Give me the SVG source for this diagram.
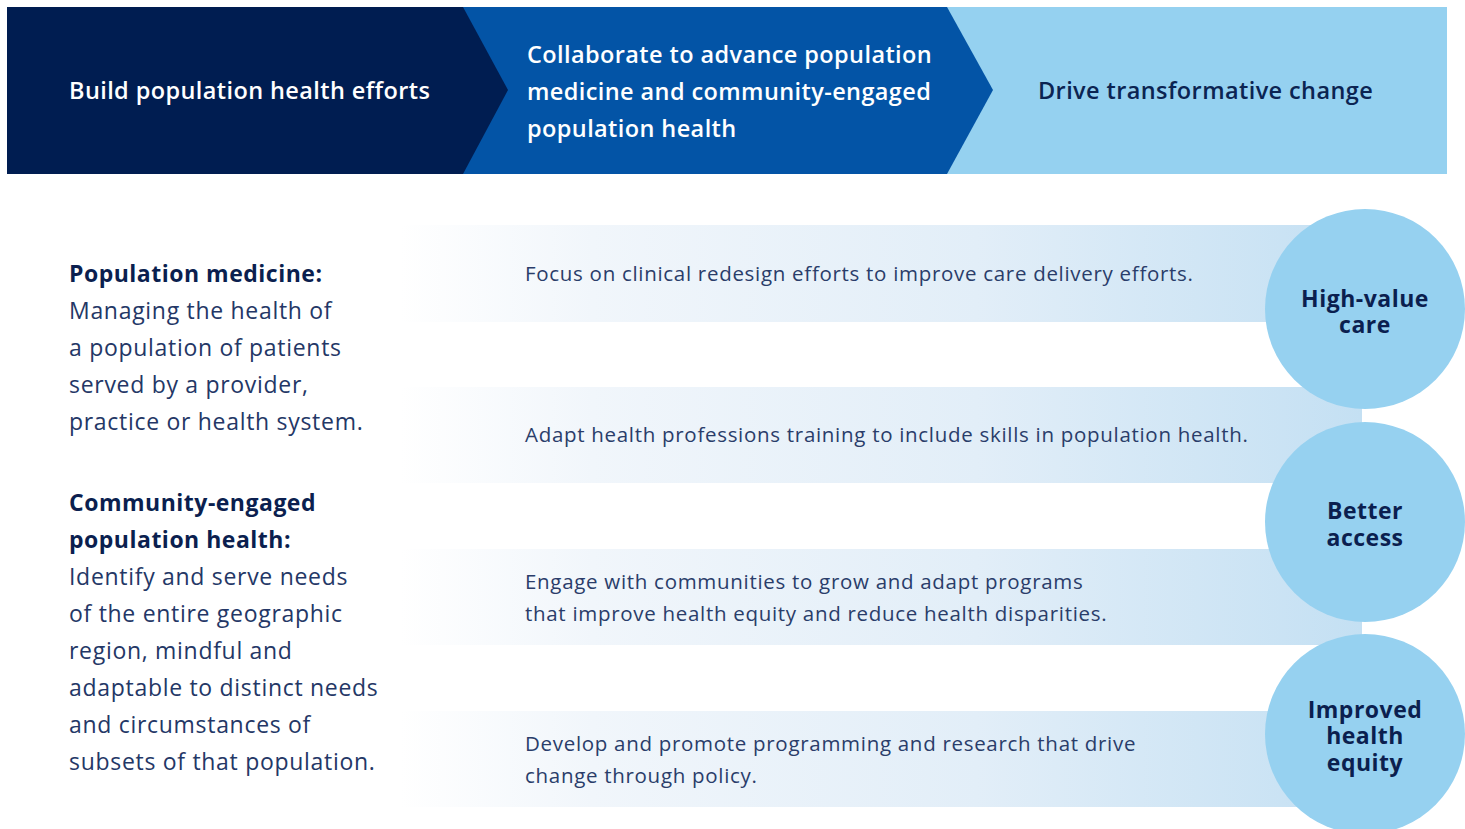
<svg xmlns="http://www.w3.org/2000/svg" width="1465" height="829" viewBox="0 0 1465 829">
<defs>
<linearGradient id="band" gradientUnits="userSpaceOnUse" x1="400" y1="0" x2="1362" y2="0">
<stop offset="0" stop-color="#ffffff"/>
<stop offset="0.2" stop-color="#f1f6fb"/>
<stop offset="0.6" stop-color="#e2eef8"/>
<stop offset="1" stop-color="#c4e0f3"/>
</linearGradient>
<style>
.hdr{font-family:"Open Sans","Liberation Sans",sans-serif;font-size:23.5px;font-weight:600;letter-spacing:0.4px}
.band{fill:url(#band)}
.bt{font-family:"Open Sans","Liberation Sans",sans-serif;font-size:20.5px;fill:#2a3d6a;letter-spacing:0.7px}
.lt{font-family:"Open Sans","Liberation Sans",sans-serif;font-size:23px;fill:#243766;letter-spacing:0.7px}
.lb{font-weight:700;fill:#0b1f4f;letter-spacing:0.5px}
.circ{fill:#96d1f0}
.ct{font-family:"Open Sans","Liberation Sans",sans-serif;font-size:23px;font-weight:700;fill:#0b1f4f;text-anchor:middle;letter-spacing:0.5px}
</style>
</defs>
<rect width="1465" height="829" fill="#ffffff"/>
<g id="stage3">
<polygon points="940,7 1447,7 1447,174 940,174" fill="#95d1f0"/>
<text class="hdr" x="1038" y="99" fill="#0b2452">Drive transformative change</text>
</g>
<g id="stage2">
<polygon points="456,7 947,7 993,90 947,174 456,174" fill="#0354a6"/>
<text class="hdr" fill="#ffffff"><tspan x="527" y="63">Collaborate to advance population</tspan><tspan x="527" y="100">medicine and community-engaged</tspan><tspan x="527" y="137">population health</tspan></text>
</g>
<g id="stage1">
<polygon points="7,7 463,7 508,90 463,174 7,174" fill="#001d51"/>
<text class="hdr" x="69" y="99" fill="#ffffff">Build population health efforts</text>
</g>
<g id="definitions">
<text class="lt"><tspan class="lb" x="69" y="282">Population medicine:</tspan><tspan x="69" y="319">Managing the health of</tspan><tspan x="69" y="356">a population of patients</tspan><tspan x="69" y="393">served by a provider,</tspan><tspan x="69" y="430">practice or health system.</tspan></text>
<text class="lt"><tspan class="lb" x="69" y="511">Community-engaged</tspan><tspan class="lb" x="69" y="548">population health:</tspan><tspan x="69" y="585">Identify and serve needs</tspan><tspan x="69" y="622">of the entire geographic</tspan><tspan x="69" y="659">region, mindful and</tspan><tspan x="69" y="696">adaptable to distinct needs</tspan><tspan x="69" y="733">and circumstances of</tspan><tspan x="69" y="770">subsets of that population.</tspan></text>
</g>
<g id="band1"><rect class="band" x="400" y="225" width="962" height="97"/><text class="bt" x="525" y="281">Focus on clinical redesign efforts to improve care delivery efforts.</text></g>
<g id="band2"><rect class="band" x="400" y="387" width="962" height="96"/><text class="bt" x="525" y="442">Adapt health professions training to include skills in population health.</text></g>
<g id="band3"><rect class="band" x="400" y="549" width="962" height="96"/><text class="bt"><tspan x="525" y="589">Engage with communities to grow and adapt programs</tspan><tspan x="525" y="621">that improve health equity and reduce health disparities.</tspan></text></g>
<g id="band4"><rect class="band" x="400" y="711" width="962" height="96"/><text class="bt"><tspan x="525" y="751">Develop and promote programming and research that drive</tspan><tspan x="525" y="783">change through policy.</tspan></text></g>
<g id="connectors"></g>
<g id="outcome1"><circle class="circ" cx="1365" cy="309" r="100"/><text class="ct"><tspan x="1365" y="307">High-value</tspan><tspan x="1365" y="333">care</tspan></text></g>
<g id="outcome2"><circle class="circ" cx="1365" cy="522" r="100"/><text class="ct"><tspan x="1365" y="519">Better</tspan><tspan x="1365" y="546">access</tspan></text></g>
<g id="outcome3"><circle class="circ" cx="1365" cy="734" r="100"/><text class="ct"><tspan x="1365" y="718">Improved</tspan><tspan x="1365" y="744">health</tspan><tspan x="1365" y="771">equity</tspan></text></g>
</svg>
